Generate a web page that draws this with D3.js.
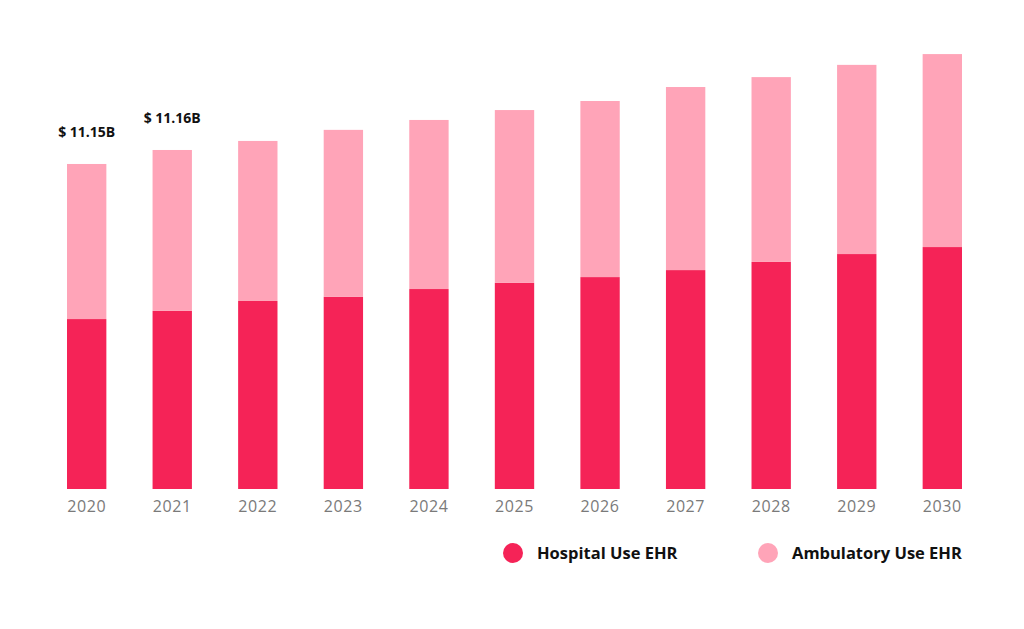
<!DOCTYPE html>
<html>
<head>
<meta charset="utf-8">
<script src="https://cdn.jsdelivr.net/npm/d3@7"></script>
<style>
  body { margin: 0; background: #fff; }
  svg { display: block; font-family: "Open Sans", sans-serif; }
</style>
</head>
<body>
<div id="chart"></div>
<script>
// Data (USD billions)
const years = ["2020", "2021", "2022", "2023", "2024", "2025", "2026", "2027", "2028", "2029", "2030"];
const hospital = [5.83, 6.11, 6.45, 6.59, 6.86, 7.07, 7.27, 7.51, 7.79, 8.06, 8.30];
const ambulatory = [5.32, 5.52, 5.49, 5.73, 5.80, 5.93, 6.04, 6.28, 6.34, 6.49, 6.62];
const annotations = [
  { year: "2020", text: "$ 11.15B" },
  { year: "2021", text: "$ 11.16B" }
];
const seriesNames = ["Hospital Use EHR", "Ambulatory Use EHR"];

const colors = {
  hospital: "#f52357",
  ambulatory: "#ffa4b8"
};

const width = 1024, height = 629;
const baseY = 489;

const svg = d3.select("#chart")
  .append("svg")
  .attr("width", width)
  .attr("height", height);

const x = d3.scaleBand()
  .domain(years)
  .range([67, 962])
  .paddingInner(0.54)
  .paddingOuter(0);

const y = d3.scaleLinear()
  .domain([0, 15])
  .range([baseY, baseY - 15 * 29.15]);

const rows = years.map((yr, i) => ({
  year: yr,
  hospital: hospital[i],
  ambulatory: ambulatory[i]
}));

const stack = d3.stack().keys(["hospital", "ambulatory"]);
const layers = stack(rows);

svg.selectAll(".layer")
  .data(layers)
  .enter()
  .append("g")
  .attr("fill", d => colors[d.key])
  .selectAll("rect")
  .data(d => d)
  .enter()
  .append("rect")
  .attr("x", d => x(d.data.year))
  .attr("y", d => y(d[1]))
  .attr("width", x.bandwidth())
  .attr("height", d => y(d[0]) - y(d[1]));

// Year axis (no line, no ticks)
const xAxis = svg.append("g")
  .attr("transform", `translate(0,${baseY})`)
  .call(d3.axisBottom(x).tickSize(0).tickPadding(12));
xAxis.select(".domain").remove();
xAxis.selectAll("text")
  .attr("fill", "#7a7a7a")
  .style("font-size", "16px")
  .style("letter-spacing", "0.6px")
  .style("font-family", "'Open Sans', sans-serif");

// Value annotations above first bars
const totalOf = yr => {
  const i = years.indexOf(yr);
  return hospital[i] + ambulatory[i];
};
svg.selectAll(".anno")
  .data(annotations)
  .enter()
  .append("text")
  .attr("class", "anno")
  .attr("x", d => x(d.year) + x.bandwidth() / 2)
  .attr("y", d => y(totalOf(d.year)) - 27)
  .attr("text-anchor", "middle")
  .attr("font-size", "14px")
  .attr("font-weight", "bold")
  .attr("fill", "#111")
  .text(d => d.text);

// Legend
const legend = svg.append("g").attr("transform", "translate(513,553)");
const legendX = [0, 255];
const legendColors = [colors.hospital, colors.ambulatory];
seriesNames.forEach((name, i) => {
  const g = legend.append("g").attr("transform", `translate(${legendX[i]},0)`);
  g.append("circle").attr("r", 10).attr("fill", legendColors[i]);
  g.append("text")
    .attr("x", 24)
    .attr("y", 6)
    .attr("font-size", "16.5px")
    .attr("font-weight", "bold")
    .attr("fill", "#111")
    .text(name);
});
</script>
</body>
</html>
